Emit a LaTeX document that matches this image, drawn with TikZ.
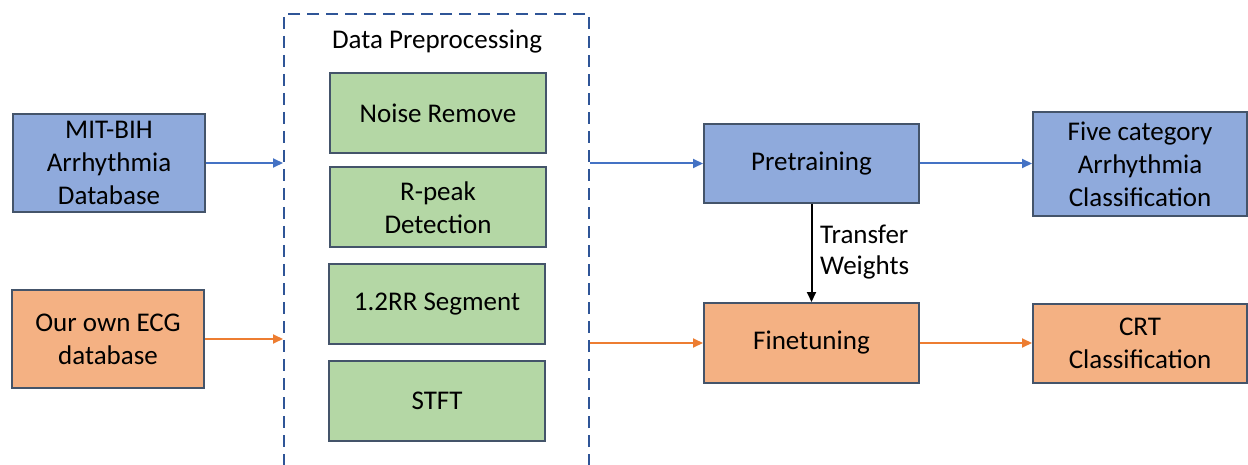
\documentclass[tikz,border=0pt]{standalone}
\usepackage{fontspec}
\setmainfont{Carlito}
\usetikzlibrary{arrows.meta}
\definecolor{bluefill}{HTML}{8FAADC}
\definecolor{orangefill}{HTML}{F4B183}
\definecolor{greenfill}{HTML}{B4D7A5}
\definecolor{boxline}{HTML}{44546A}
\definecolor{bluearrow}{HTML}{4472C4}
\definecolor{orangearrow}{HTML}{ED7D31}
\definecolor{dashblue}{HTML}{2F5597}
\tikzset{
  box/.style={draw=boxline, line width=2pt, align=center, inner sep=0pt,
    font=\fontsize{27}{33}\selectfont},
  bluebox/.style={box, fill=bluefill},
  orangebox/.style={box, fill=orangefill},
  greenbox/.style={box, fill=greenfill, minimum width=216pt, minimum height=80pt},
  tip/.style={-{Triangle[length=10pt,width=9pt]}},
  barrow/.style={tip, draw=bluearrow, fill=bluearrow, line width=2pt},
  oarrow/.style={tip, draw=orangearrow, fill=orangearrow, line width=2pt},
  karrow/.style={tip, draw=black, fill=black, line width=2pt},
  lbl/.style={font=\fontsize{27}{31}\selectfont, align=left, inner sep=0pt}
}
\begin{document}
\begin{tikzpicture}[x=1pt,y=-1pt]
\useasboundingbox (0,0) rectangle (1248,465);
\clip (0,0) rectangle (1248,465);
\fill[white] (0,0) rectangle (1248,465);
% dashed preprocessing frame
\node[draw=dashblue, line width=2pt, dash pattern=on 12pt off 7pt,
  minimum width=305pt, minimum height=470pt, inner sep=0pt] (pre) at (436.5,249) {};
\node[font=\fontsize{27}{28}\selectfont, inner sep=0pt] (title) at (437,42) {Data Preprocessing};
% green steps
\node[greenbox] (noise) at (438,113) {Noise Remove};
\node[greenbox] (rpeak) at (438,207.5) {R-peak\\Detection};
\node[greenbox] (seg) at (437,304) {1.2RR Segment};
\node[greenbox] (stft) at (437,400.5) {STFT};
% inputs
\node[bluebox, minimum width=192pt, minimum height=98pt] (mit) at (109,163) {MIT-BIH\\Arrhythmia\\Database};
\node[orangebox, minimum width=192pt, minimum height=98pt] (ecg) at (108,339) {Our own ECG\\database};
% training
\node[bluebox, minimum width=215pt, minimum height=79pt] (pt) at (811.5,163.5) {Pretraining};
\node[orangebox, minimum width=215pt, minimum height=80pt] (ft) at (811.5,343) {Finetuning};
% outputs
\node[bluebox, minimum width=214pt, minimum height=104pt] (five) at (1140,164) {Five category\\Arrhythmia\\Classification};
\node[orangebox, minimum width=214pt, minimum height=79pt] (crt) at (1140,343.5) {CRT\\Classification};
% connectors
\draw[barrow] (mit.east) -- (mit.east -| pre.west);
\draw[oarrow] (ecg.east) -- (ecg.east -| pre.west);
\draw[barrow] (pt.west -| pre.east) -- (pt.west);
\draw[oarrow] (ft.west -| pre.east) -- (ft.west);
\draw[barrow] (pt.east) -- (pt.east -| five.west);
\draw[oarrow] (ft.east) -- (ft.east -| crt.west);
\draw[karrow] (pt.south) -- (ft.north);
\node[lbl, anchor=west] (tw) at (820,252) {Transfer\\Weights};
\end{tikzpicture}
\end{document}
